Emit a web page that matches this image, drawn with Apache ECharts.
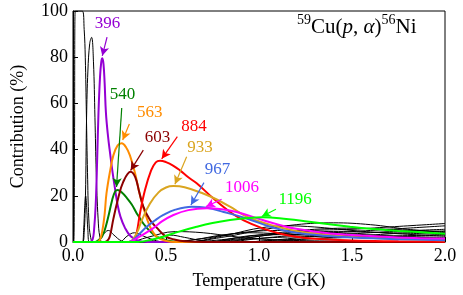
<!DOCTYPE html>
<html><head><meta charset="utf-8">
<script src="https://cdn.jsdelivr.net/npm/echarts/dist/echarts.min.js"></script>
<style>html,body{margin:0;padding:0;background:#fff}#c{width:463px;height:295px}</style>
</head><body><div id="c"></div>
<script>
// ---- tick labels ----
const xTicks = [0.0, 0.5, 1.0, 1.5, 2.0];
const yTicks = [0, 20, 40, 60, 80, 100];

// ---- highlighted resonances (keV) ----
const resLabels = ['396', '540', '563', '603', '884', '933', '967', '1006', '1196'];

// [T (GK), contribution %]
const r396 = [[0,0],[0.09,0],[0.105,1],[0.113,5],[0.122,16],[0.13,36],[0.137,56],[0.145,71],[0.152,78],[0.158,79.5],[0.164,77],[0.17,69],[0.177,56],[0.188,46],[0.2,38],[0.213,30],[0.226,23],[0.24,16],[0.255,11],[0.28,6],[0.31,2.5],[0.35,0.6],[0.4,0],[2.0,0]];
const r540 = [[0,0],[0.12,0],[0.14,1],[0.155,2.2],[0.17,5],[0.19,11],[0.21,18],[0.226,21.8],[0.24,22.5],[0.26,21.6],[0.29,19],[0.316,16.2],[0.34,12.8],[0.378,8],[0.41,5],[0.45,2.3],[0.5,0.8],[0.55,0.2],[0.6,0],[2.0,0]];
const r563 = [[0,0],[0.13,0],[0.145,1],[0.158,5],[0.17,12],[0.18,21],[0.2,31],[0.217,37.5],[0.24,41.8],[0.262,42.7],[0.285,41],[0.306,37.5],[0.333,30],[0.355,22],[0.378,15],[0.414,6.6],[0.45,2.3],[0.5,0.5],[0.55,0],[2.0,0]];
const r603 = [[0,0],[0.17,0],[0.19,1],[0.2,3],[0.217,10],[0.24,18],[0.27,26],[0.31,30.4],[0.335,28],[0.355,22],[0.378,15.3],[0.414,9.5],[0.45,6.2],[0.5,2.3],[0.55,1],[0.6,0.3],[0.7,0],[2.0,0]];
const r884 = [[0,0],[0.3,0],[0.33,1],[0.345,5],[0.36,12.4],[0.387,22.5],[0.42,31],[0.445,34.5],[0.468,35.2],[0.5,34.6],[0.54,33],[0.575,31],[0.62,28],[0.665,25.4],[0.754,18.9],[0.844,13],[0.915,9.5],[1.02,5.9],[1.11,3.7],[1.2,2.3],[1.3,1.4],[1.5,0.6],[1.75,0.3],[2.0,0.1]];
const r933 = [[0,0],[0.3,0],[0.342,3.8],[0.37,9.5],[0.414,16.7],[0.46,21.5],[0.5,23.6],[0.54,24.2],[0.6,23.7],[0.7,21],[0.77,18.5],[0.844,15.3],[0.934,11],[1.06,7.4],[1.11,6.4],[1.2,4.8],[1.35,3.2],[1.5,2.2],[1.75,1.3],[2.0,0.8]];
const r967 = [[0,0],[0.3,0],[0.342,2.3],[0.396,6.6],[0.44,9.3],[0.486,11.7],[0.55,14],[0.638,15.3],[0.72,14.8],[0.81,13],[0.934,10.2],[1.06,6.6],[1.11,5.5],[1.2,4],[1.35,2.7],[1.5,1.9],[1.75,1.2],[2.0,0.8]];
const r1006 = [[0,0],[0.3,0],[0.342,1.6],[0.43,5.9],[0.48,9],[0.54,11.7],[0.62,13.8],[0.72,14.6],[0.8,14.2],[0.88,13],[1.02,9.5],[1.11,7.4],[1.2,5.7],[1.35,4],[1.5,3],[1.75,2],[2.0,1.5]];
const r1196 = [[0,0],[0.35,0],[0.42,1],[0.486,2.3],[0.57,4.5],[0.665,6.6],[0.75,8.2],[0.844,9.5],[0.93,10.3],[1.02,10.7],[1.11,10.3],[1.27,8.8],[1.4,7.5],[1.49,6.6],[1.58,5.8],[1.75,4.8],[2.0,3.6]];

// ---- other resonances (black) ----
const k1 = [[0,0],[0.004,0],[0.008,40],[0.012,100],[0.05,100],[0.06,92],[0.066,80],[0.072,55],[0.078,30],[0.085,10],[0.095,2],[0.11,0],[2.0,0]];
const k2 = [[0,0],[0.05,0],[0.06,4],[0.067,20],[0.073,54],[0.08,74],[0.09,86],[0.1,88.6],[0.11,78],[0.118,54],[0.125,30],[0.135,10],[0.145,2],[0.16,0],[2.0,0]];
const k3 = [[0,0],[0.05,0],[0.057,5],[0.063,15],[0.068,20],[0.074,14],[0.08,5],[0.088,0],[2.0,0]];
const k4 = [[0,0],[0.13,0],[0.16,3],[0.19,5],[0.22,3],[0.26,0.5],[0.3,0],[2.0,0]];
const k5 = [[0,0],[0.25,0],[0.29,2.5],[0.33,4],[0.38,2.5],[0.45,0.5],[0.5,0],[2.0,0]];
const k6 = [[0,0],[0.4,0],[0.45,1.5],[0.52,3],[0.6,2],[0.7,0.5],[0.8,0],[2.0,0]];
const k7 = [[0,0],[0.6,0],[0.8,2],[1.0,5],[1.2,7.5],[1.4,8.3],[1.6,7.5],[1.8,5.5],[2.0,4]];
const k8 = [[0,0],[0.7,0],[0.9,1.5],[1.1,3.5],[1.3,5],[1.5,5.5],[1.7,6.5],[1.9,7.5],[2.0,8]];
const k9 = [[0,0],[0.6,0],[0.8,2.5],[1.0,6],[1.15,7],[1.3,6.5],[1.5,5],[1.7,3.8],[2.0,2.5]];
const k10 = [[0,0],[0.8,0],[1.0,1.5],[1.2,3],[1.4,4],[1.6,5],[1.8,6],[2.0,7]];
const k11 = [[0,0],[0.5,0],[0.7,1.5],[0.9,4],[1.1,5],[1.3,4.5],[1.5,3.5],[1.8,2.2],[2.0,1.5]];
const k12 = [[0,0],[0.9,0],[1.1,1],[1.3,2.5],[1.5,3.5],[1.7,4.5],[2.0,5.5]];
const k13 = [[0,0],[0.7,0],[0.9,2],[1.1,4],[1.3,5.5],[1.5,6],[1.7,5.5],[2.0,4.5]];
const k14 = [[0,0],[0.8,0],[1.0,2.5],[1.2,4],[1.4,4.5],[1.6,4.2],[1.8,3.8],[2.0,3.2]];
const k15 = [[0,0],[1.0,0],[1.2,1],[1.4,2],[1.6,3],[1.8,4],[2.0,4.8]];
const k16 = [[0,0],[0.6,0],[0.8,1],[1.0,3],[1.2,3.2],[1.4,3],[1.7,2.5],[2.0,2]];
const k17 = [[0,0],[0.7,0],[0.9,1],[1.1,2],[1.3,2.3],[1.5,2.2],[1.8,1.8],[2.0,1.4]];
const k18 = [[0,0],[0.9,0],[1.1,0.8],[1.3,1.5],[1.5,2],[1.7,2.6],[2.0,3]];
const k19 = [[0,0],[0.5,0],[0.65,1],[0.8,3],[0.95,4],[1.1,3.6],[1.3,2.8],[1.6,1.8],[2.0,1]];
const k20 = [[0,0],[0.3,0],[0.4,2],[0.55,4.5],[0.7,4],[0.85,2.5],[1.0,1.3],[1.3,0.5],[2.0,0]];

const blackCurves = [k1,k2,k3,k4,k5,k6,k7,k8,k9,k10,k11,k12,k13,k14,k15,k16,k17,k18,k19,k20];
const colorCurves = [r396,r540,r563,r603,r884,r933,r967,r1006,r1196];

// ---- annotation placement (data coordinates) ----
const labelAt = [[0.185,94.4],[0.266,64],[0.412,56],[0.454,45.2],[0.65,50.2],[0.683,40.9],[0.777,31.2],[0.909,23.4],[1.194,18.6]];
const arrowFrom = [[0.183,88.7],[0.262,58],[0.303,51.1],[0.378,39.8],[0.561,45.6],[0.611,36.9],[0.704,25.7],[0.799,18.5],[1.091,14.2]];
const arrowTo = [[0.1575,80.6],[0.234,23.8],[0.267,44.2],[0.31,31],[0.477,36],[0.548,25],[0.634,16],[0.715,15.3],[1.015,11]];
const colors = ['#9400D3','#008000','#FF8C00','#8B0000','#FF0000','#DAA520','#4169E1','#FF00FF','#00FF00'];

const FONT = 'Liberation Serif';
const series = [];
blackCurves.forEach(d => series.push({
  type:'line', data:d, smooth:0.4, showSymbol:false, symbol:'none', z:2,
  lineStyle:{color:'#000', width:1}, silent:true
}));
colorCurves.forEach((d,i) => series.push({
  type:'line', data:d, smooth:0.4, showSymbol:false, symbol:'none', z:3,
  lineStyle:{color:colors[i], width:2}, silent:true,
  markLine:{silent:true, symbol:['none','arrow'], symbolSize:[7,9], animation:false,
    lineStyle:{color:colors[i], width:1.2, type:'solid'}, label:{show:false},
    data:[[{coord:arrowFrom[i]},{coord:arrowTo[i]}]]}
}));

const chart = echarts.init(document.getElementById('c'), null, {renderer:'canvas'});
chart.setOption({
  animation:false,
  backgroundColor:'#fff',
  grid:{left:73, right:18, top:11, bottom:53, show:true, borderColor:'#000', borderWidth:1, backgroundColor:'transparent'},
  xAxis:{type:'value', min:xTicks[0], max:xTicks[xTicks.length-1], interval:0.5,
    name:'Temperature (GK)', nameLocation:'middle', nameGap:30,
    nameTextStyle:{fontFamily:FONT, fontSize:18, color:'#000'},
    axisLine:{lineStyle:{color:'#000', width:1}},
    axisTick:{inside:true, length:5, lineStyle:{color:'#000'}},
    axisLabel:{show:false},
    splitLine:{show:false}},
  yAxis:{type:'value', min:yTicks[0], max:yTicks[yTicks.length-1], interval:20,
    name:'Contribution (%)', nameLocation:'middle', nameGap:46,
    nameTextStyle:{fontFamily:FONT, fontSize:18, color:'#000'},
    axisLine:{lineStyle:{color:'#000', width:1}},
    axisTick:{inside:true, length:5, lineStyle:{color:'#000'}},
    axisLabel:{show:false},
    splitLine:{show:false}},
  series:series
});

// text drawn as graphic elements, positioned through the axes
const g = [];
xTicks.forEach(t => {
  const p = chart.convertToPixel({gridIndex:0}, [t, yTicks[0]]);
  g.push({type:'text', x:p[0], y:p[1]+5, z:10, style:{text:t.toFixed(1), fontFamily:FONT, fontSize:18, fill:'#000', align:'center', verticalAlign:'top'}});
});
yTicks.forEach(v => {
  const p = chart.convertToPixel({gridIndex:0}, [xTicks[0], v]);
  g.push({type:'text', x:p[0]-5, y:p[1], z:10, style:{text:String(v), fontFamily:FONT, fontSize:18, fill:'#000', align:'right', verticalAlign:'middle'}});
});
resLabels.forEach((s,i) => {
  const p = chart.convertToPixel({gridIndex:0}, labelAt[i]);
  g.push({type:'text', x:p[0], y:p[1], z:10, style:{text:s, fontFamily:FONT, fontSize:17, fill:colors[i], align:'center', verticalAlign:'middle'}});
});
g.push({type:'text', left:297, top:13, z:10, style:{
  text:'{s|59}{n|Cu(}{i|p}{n|, }{i|α}{n|)}{s|56}{n|Ni}',
  rich:{
    n:{fontFamily:FONT, fontSize:21, fill:'#000', lineHeight:25, verticalAlign:'bottom'},
    i:{fontFamily:FONT, fontSize:21, fontStyle:'italic', fill:'#000', lineHeight:25, verticalAlign:'bottom'},
    s:{fontFamily:FONT, fontSize:14, fill:'#000', lineHeight:25, verticalAlign:'top'}
  }}});
chart.setOption({graphic:g});
</script></body></html>
